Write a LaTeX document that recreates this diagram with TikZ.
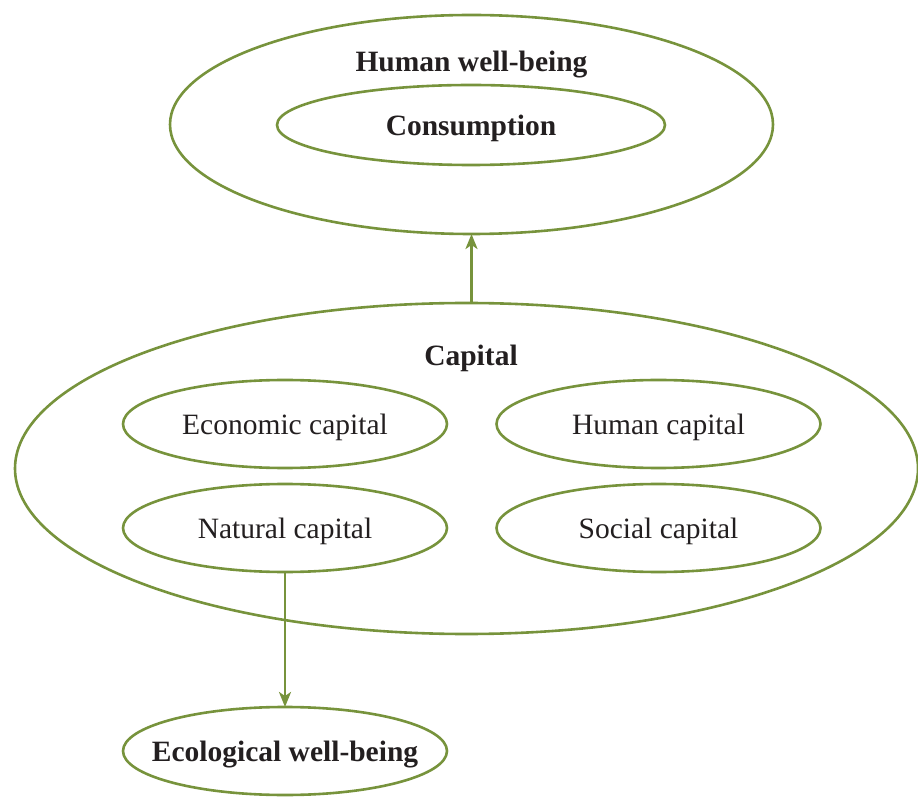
\documentclass[tikz,border=0pt]{standalone}
\usepackage{fontspec}
\setmainfont{Liberation Serif}
\usetikzlibrary{shapes.geometric,arrows.meta}
\definecolor{olivegreen}{HTML}{77933C}
\definecolor{txt}{HTML}{231F20}
\tikzset{
  oval/.style={ellipse, draw=olivegreen, line width=2.6pt, inner sep=0pt, outer sep=0pt, text=txt, text depth=0pt},
  small/.style={oval, minimum width=324pt, minimum height=88pt, inner xsep=-30pt, font=\fontsize{29.5}{32}\selectfont},
  bigtxt/.style={text=txt, font=\bfseries\fontsize{29.5}{32}\selectfont, inner sep=0pt, text depth=0pt},
  conn/.style={draw=olivegreen, line width=2.6pt, -{Stealth[length=15pt,width=12pt,inset=4pt]}}
}
\begin{document}
\begin{tikzpicture}[x=1pt,y=1pt]
\useasboundingbox (0,0) rectangle (918,796);
% Human well-being
\node[oval, minimum width=603pt, minimum height=219pt] (hw) at (471.5,671.5) {};
\node[bigtxt] (hwt) at (471.5,735) {Human well-being};
\node[oval, minimum width=388pt, minimum height=80pt, inner xsep=-30pt, font=\bfseries\fontsize{29.5}{32}\selectfont] (cons) at (471,671) {Consumption};
% Capital
\node[oval, minimum width=903pt, minimum height=331pt] (cap) at (466.5,327.5) {};
\node[bigtxt] (capt) at (471,441) {Capital};
\node[small] (econ) at (285,372) {Economic capital};
\node[small] (hum) at (658.5,372) {Human capital};
\node[small] (nat) at (285,268) {Natural capital};
\node[small] (soc) at (658.5,268) {Social capital};
% Ecological
\node[small, font=\bfseries\fontsize{29.5}{32}\selectfont] (eco) at (285,45) {Ecological well-being};
% connectors
\draw[conn] (cap.north -| hw.south) -- (hw.south);
\draw[conn] (nat.south) -- (eco.north);
\end{tikzpicture}
\end{document}
